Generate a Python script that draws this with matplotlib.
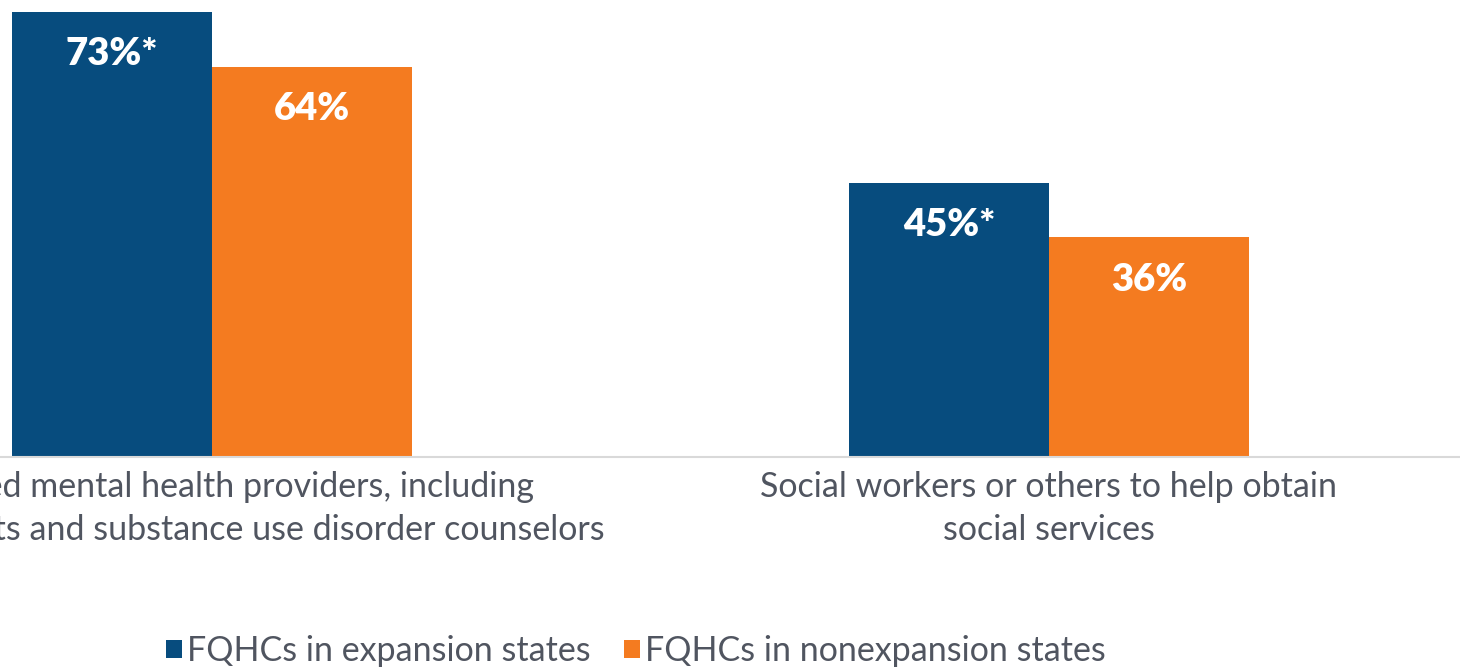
import numpy as np
import matplotlib.pyplot as plt

categories = ["Licensed mental health providers, including\npsychologists and substance use disorder counselors",
              "Social workers or others to help obtain\nsocial services"]
series_names = ["FQHCs in expansion states", "FQHCs in nonexpansion states"]
expansion = [73, 45]
nonexpansion = [64, 36]
value_labels = [["73%*", "45%*"], ["64%", "36%"]]

colors = ["#074C7E", "#F47B20"]
text_color = "#505560"

plt.rcParams['font.family'] = ['Lato', 'DejaVu Sans']

fig = plt.figure(figsize=(14.6, 6.71), dpi=100)
# axes wider than the figure: the reference is a crop of a larger chart
px_per_unit = 837
left_px = 212 - 0.5 * px_per_unit
ax = fig.add_axes([left_px / 1460, 214 / 671, 2 * px_per_unit / 1460, 457.5 / 671])

x = np.arange(len(categories))
w = 200 / px_per_unit
for i, (vals, col) in enumerate(zip([expansion, nonexpansion], colors)):
    pos = x - w / 2 + i * w
    ax.bar(pos, vals, width=w, color=col, label=series_names[i])
    for xp, v, lab in zip(pos, vals, value_labels[i]):
        ax.text(xp, v - 7.0, lab, ha='center', va='center', color='white',
                fontsize=27.5, fontweight='heavy')

ax.set_xlim(-0.5, 1.5)
ax.set_ylim(0, 75)
ax.set_yticks([])
ax.set_xticks(x)
ax.set_xticklabels(categories, fontsize=24.5, color=text_color, linespacing=1.42)
ax.tick_params(axis='x', length=0, pad=10)
for s in ["top", "right", "left"]:
    ax.spines[s].set_visible(False)
ax.spines["bottom"].set_color("#D9D9D9")
ax.spines["bottom"].set_linewidth(1.5)

leg = fig.legend(loc='center', bbox_to_anchor=(636 / 1460, 1 - 651 / 671), ncol=2,
                 frameon=False, fontsize=24.5, handlelength=0.45, handleheight=0.45,
                 handletextpad=0.15, columnspacing=1.0)
for t in leg.get_texts():
    t.set_color(text_color)

fig.savefig("out.png", dpi=100)
